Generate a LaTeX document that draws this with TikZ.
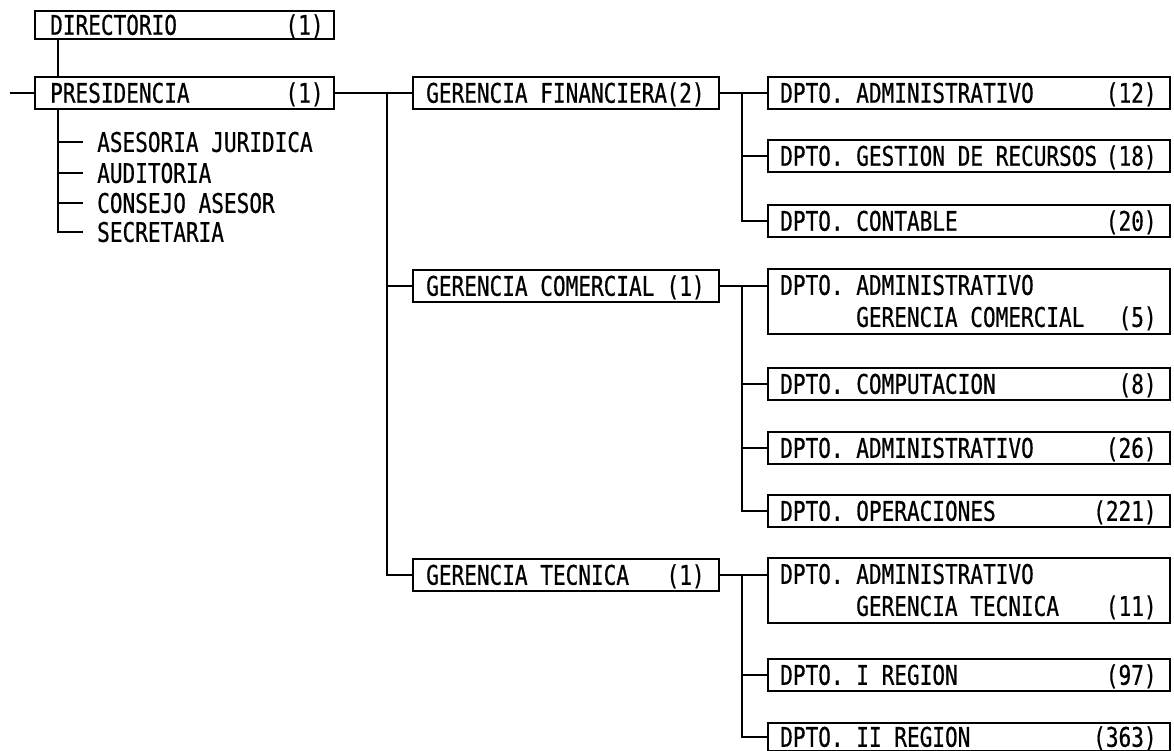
\documentclass[tikz,border=0pt]{standalone}
\usepackage{fontspec}
\setmainfont{DejaVu Sans Mono}[FakeStretch=0.78,FakeBold=0.6]
\begin{document}
\begin{tikzpicture}[x=1pt,y=-1pt,
  font=\fontsize{27}{29}\selectfont,
  conn/.style={draw, line width=1.8pt},
  box/.style={draw, line width=1.8pt, rectangle, inner sep=0pt, anchor=north west, minimum height=32pt},
  wa/.style={minimum width=299pt},
  wb/.style={minimum width=306pt},
  wc/.style={minimum width=402pt},
  tall/.style={minimum height=65pt},
  txt/.style={inner sep=0pt, text height=19.7pt, text depth=0pt},
  lt/.style={txt, anchor=west},
  rt/.style={txt, anchor=east}
]
\useasboundingbox (0,0) rectangle (1174,751);

% ---------- column 1 ----------
\node[box, wa, minimum height=28pt] (dir) at (34,10) {};
\node[lt] (dirt) at ([xshift=16pt]dir.west) {DIRECTORIO};
\node[rt] (dirn) at ([xshift=-11pt]dir.east) {(1)};

\node[box, wa] (pres) at (34,76) {};
\node[lt] (prest) at ([xshift=16pt]pres.west) {PRESIDENCIA};
\node[rt] (presn) at ([xshift=-11pt]pres.east) {(1)};

\coordinate (stub) at ([xshift=-24pt]pres.west);
\draw[conn] (stub) -- (pres.west);
\draw[conn] ([xshift=24pt]dir.south west) -- ([xshift=24pt]pres.north west);

\node[lt] (aj) at (97,142) {ASESORIA JURIDICA};
\node[lt] (au) at (97,173) {AUDITORIA};
\node[lt] (ca) at (97,203) {CONSEJO ASESOR};
\node[lt] (se) at (97,232) {SECRETARIA};
\coordinate (pv) at ([xshift=24pt]pres.south west);
\draw[conn] (pv) |- ([xshift=-14pt]se.west);
\draw[conn] (pv |- aj.west) -- ([xshift=-14pt]aj.west);
\draw[conn] (pv |- au.west) -- ([xshift=-14pt]au.west);
\draw[conn] (pv |- ca.west) -- ([xshift=-14pt]ca.west);

% ---------- column 2 ----------
\node[box, wb] (gf) at (412,76) {};
\node[lt] (gft) at ([xshift=14pt]gf.west) {GERENCIA FINANCIERA};
\node[rt] (gfn) at ([xshift=-15pt]gf.east) {(2)};
\node[box, wb] (gc) at (412,269) {};
\node[lt] (gct) at ([xshift=14pt]gc.west) {GERENCIA COMERCIAL};
\node[rt] (gcn) at ([xshift=-15pt]gc.east) {(1)};
\node[box, wb] (gt) at (412,558) {};
\node[lt] (gtt) at ([xshift=14pt]gt.west) {GERENCIA TECNICA};
\node[rt] (gtn) at ([xshift=-15pt]gt.east) {(1)};

\coordinate (t1) at (387,0);
\draw[conn] (pres.east) -- (gf.west);
\draw[conn] (pres.east -| t1) |- (gt.west);
\draw[conn] (t1 |- gc.west) -- (gc.west);

% ---------- column 3 ----------
\coordinate (t2) at (742,0);
% financiera
\node[box, wc] (a12) at (767,76) {};
\node[lt] (a12t) at ([xshift=13pt]a12.west) {DPTO. ADMINISTRATIVO};
\node[rt] (a12n) at ([xshift=-14pt]a12.east) {(12)};
\node[box, wc] (g18) at (767,139) {};
\node[lt] (g18t) at ([xshift=13pt]g18.west) {DPTO. GESTION DE RECURSOS};
\node[rt] (g18n) at ([xshift=-14pt]g18.east) {(18)};
\node[box, wc] (c20) at (767,204) {};
\node[lt] (c20t) at ([xshift=13pt]c20.west) {DPTO. CONTABLE};
\node[rt] (c20n) at ([xshift=-14pt]c20.east) {(20)};
\draw[conn] (gf.east) -- (a12.west);
\draw[conn] (gf.east -| t2) |- (c20.west);
\draw[conn] (t2 |- g18.west) -- (g18.west);

% comercial
\node[box, wc, tall] (ac5) at (767,268) {};
\node[lt] (ac5t) at ([xshift=13pt,yshift=-17pt]ac5.north west) {DPTO. ADMINISTRATIVO};
\node[lt] (ac5s) at ([xshift=89pt,yshift=-49pt]ac5.north west) {GERENCIA COMERCIAL};
\node[rt] (ac5n) at ([xshift=-14pt,yshift=-49pt]ac5.north east) {(5)};
\node[box, wc] (cp8) at (767,367) {};
\node[lt] (cp8t) at ([xshift=13pt]cp8.west) {DPTO. COMPUTACION};
\node[rt] (cp8n) at ([xshift=-14pt]cp8.east) {(8)};
\node[box, wc] (a26) at (767,431) {};
\node[lt] (a26t) at ([xshift=13pt]a26.west) {DPTO. ADMINISTRATIVO};
\node[rt] (a26n) at ([xshift=-14pt]a26.east) {(26)};
\node[box, wc] (op) at (767,494) {};
\node[lt] (opt) at ([xshift=13pt]op.west) {DPTO. OPERACIONES};
\node[rt] (opn) at ([xshift=-14pt]op.east) {(221)};
\draw[conn] (gc.east) -- (gc.east -| ac5.west);
\draw[conn] (gc.east -| t2) |- (op.west);
\draw[conn] (t2 |- cp8.west) -- (cp8.west);
\draw[conn] (t2 |- a26.west) -- (a26.west);

% tecnica
\node[box, wc, tall] (at11) at (767,557) {};
\node[lt] (at11t) at ([xshift=13pt,yshift=-17pt]at11.north west) {DPTO. ADMINISTRATIVO};
\node[lt] (at11s) at ([xshift=89pt,yshift=-49pt]at11.north west) {GERENCIA TECNICA};
\node[rt] (at11n) at ([xshift=-14pt,yshift=-49pt]at11.north east) {(11)};
\node[box, wc] (r1) at (767,658) {};
\node[lt] (r1t) at ([xshift=13pt]r1.west) {DPTO. I REGION};
\node[rt] (r1n) at ([xshift=-14pt]r1.east) {(97)};
\node[box, wc, minimum height=28pt] (r2) at (767,722) {};
\node[lt] (r2t) at ([xshift=13pt]r2.west) {DPTO. II REGION};
\node[rt] (r2n) at ([xshift=-14pt]r2.east) {(363)};
\draw[conn] (gt.east) -- (gt.east -| at11.west);
\draw[conn] (gt.east -| t2) |- (r2.west);
\draw[conn] (t2 |- r1.west) -- (r1.west);
\end{tikzpicture}
\end{document}
